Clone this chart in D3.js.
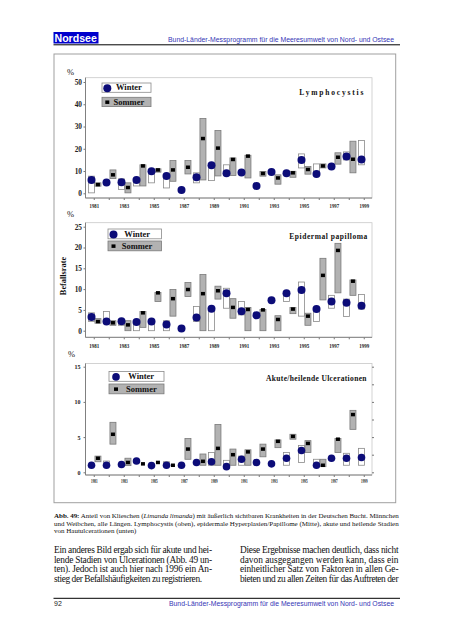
<!DOCTYPE html>
<html><head><meta charset="utf-8">
<script src="https://cdn.jsdelivr.net/npm/d3@7"></script>
<style>body{margin:0;background:#fff}</style>
</head><body>
<svg id="page" width="452" height="640"></svg>
<script>
// ---------- DATA ----------
const years = d3.range(1981, 2000);
const yearLabels = [1981,1983,1985,1987,1989,1991,1993,1995,1997,1999];

// Lymphocystis (%)
const lymWinter   = [6.0,4.8,5.0,6.0,9.9,7.8,1.5,7.2,12.6,9.0,9.3,3.3,9.6,9.0,15.0,8.7,12.0,16.5,15.2];
const lymWinterLo = [0.2,null,1.7,3.3,4.7,2.4,null,4.7,5.7,8.0,null,null,null,null,11.4,8.7,null,15.0,12.8];
const lymWinterHi = [7.7,null,6.5,5.3,9.6,7.8,null,9.2,12.6,12.8,null,null,null,null,17.7,13.2,null,18.6,23.7];
const lymSommer   = [3.9,8.3,2.6,12.3,10.5,10.5,11.7,24.6,20.3,15.2,16.7,8.9,6.9,9.2,10.7,12.3,16.2,15.3,null];
const lymSommerLo = [3.2,6.6,0.2,3.3,9.5,5.4,8.7,6.0,7.8,8.0,6.9,7.7,4.1,7.2,8.6,11.4,13.1,9.2,null];
const lymSommerHi = [4.7,10.5,4.7,12.8,11.0,14.7,14.7,33.6,28.2,15.9,17.1,9.8,8.3,9.9,12.0,13.2,18.2,23.4,null];

// Epidermal papilloma (%)
const epiWinter   = [3.3,2.2,2.3,2.1,2.2,1.5,0.5,3.2,5.3,9.0,4.7,3.7,7.3,9.0,9.8,5.2,7.0,6.7,6.0];
const epiWinterLo = [2.2,1.8,1.3,0.0,0.0,0.0,null,2.2,0.0,5.4,3.8,null,null,7.0,3.5,2.2,5.4,3.4,5.2];
const epiWinterHi = [4.3,4.6,2.7,2.4,2.6,2.4,null,5.8,5.3,10.2,7.0,null,null,9.1,11.7,5.6,8.5,7.6,8.7];
const epiSommer   = [2.2,1.9,1.4,4.3,9.1,7.7,9.9,8.9,9.6,5.6,5.1,5.0,2.7,5.2,3.5,13.3,19.3,11.9,null];
const epiSommerLo = [1.8,1.3,0.0,0.8,7.0,3.5,8.2,0.0,7.6,3.0,0.0,0.0,0.0,4.1,1.3,7.4,9.1,8.5,null];
const epiSommerHi = [2.9,2.4,2.4,4.6,9.2,9.9,11.6,13.5,10.7,7.7,5.6,5.1,3.6,5.6,4.2,17.4,21.0,12.2,null];

// Akute/heilende Ulcerationen (%)
const ulcWinter   = [1.0,1.0,1.1,1.6,0.95,1.0,1.0,1.4,1.5,0.8,1.85,1.4,1.2,2.0,3.1,1.0,2.0,2.0,2.1];
const ulcWinterLo = [null,1.0,null,null,null,0.95,null,null,1.0,1.0,1.0,null,null,1.0,1.4,1.0,null,1.0,1.0];
const ulcWinterHi = [null,1.6,null,null,null,1.5,null,null,2.8,1.7,2.3,null,null,2.8,3.8,1.85,null,2.7,3.4];
const ulcSommer   = [2.0,5.4,1.4,1.2,1.4,1.0,3.3,1.56,3.4,2.5,2.9,3.3,4.4,5.1,4.1,1.0,4.7,8.2,null];
const ulcSommerLo = [1.5,4.0,0.95,null,null,null,1.85,1.0,1.0,1.0,1.0,2.2,3.5,4.7,2.8,0.8,2.8,6.1,null];
const ulcSommerHi = [2.3,7.1,2.0,null,null,null,4.8,2.6,6.8,3.3,3.2,4.0,4.6,5.4,4.5,1.85,4.8,8.8,null];

const lymTicks = [0,10,20,30,40,50];
const epiTicks = [0,5,10,15,20,25];
const ulcTicks = [0,5,10,15];
const ulcRightTicks = [0,2.5,5,7.5,10,12.5,15];

// ---------- DRAW ----------
const svg = d3.select('#page');
const serif = "'Liberation Serif','Times New Roman',serif";
const sans = "'Liberation Sans',Arial,sans-serif";
const navy = '#0c0c78';
const blueText = '#3535b5';

// header
svg.append('rect').attr('x',53.5).attr('y',32).attr('width',45).attr('height',11.5).attr('fill','#0000cc');
svg.append('text').attr('x',54.5).attr('y',42).attr('font-family',sans).attr('font-weight','bold')
  .attr('font-size',10.6).attr('fill','#fff').text('Nordsee');
svg.append('text').attr('x',168).attr('y',42).attr('font-family',sans).attr('font-size',7)
  .attr('fill',blueText).attr('textLength',226).attr('lengthAdjust','spacingAndGlyphs')
  .text('Bund-Länder-Messprogramm für die Meeresumwelt von Nord- und Ostsee');
svg.append('line').attr('x1',53.5).attr('x2',400).attr('y1',44.8).attr('y2',44.8).attr('stroke','#000').attr('stroke-width',1);

// frame
svg.append('rect').attr('x',54).attr('y',54).attr('width',341.7).attr('height',448.7)
  .attr('fill','none').attr('stroke','#a0a0a0').attr('stroke-width',1);

const L = 85.5, R = 372;

function panel(c) {
  const g = svg.append('g');
  const x = d3.scaleLinear().domain([1980.45, 1999.55]).range([L, R]);
  const y = d3.scaleLinear().domain(c.dom).range(c.rng);

  g.append('rect').attr('x',L).attr('y',c.top).attr('width',R-L).attr('height',c.bottom-c.top)
    .attr('fill','none').attr('stroke','#c8c8c8').attr('stroke-width',0.8);

  // y axis
  const ya = g.append('g').attr('transform',`translate(${L},0)`)
    .call(d3.axisLeft(y).tickValues(c.ticks).tickSize(2).tickSizeOuter(0).tickPadding(c.yPad));
  ya.select('.domain').remove();
  ya.selectAll('line').attr('stroke','#777');
  ya.selectAll('text').attr('font-family',serif).attr('font-weight','bold')
    .attr('font-size',c.yFont).attr('fill','#222');

  // x axis
  const xa = g.append('g').attr('transform',`translate(0,${c.bottom})`)
    .call(d3.axisBottom(x).tickValues(years).tickSize(2).tickSizeOuter(0).tickPadding(c.xPad)
      .tickFormat(d => yearLabels.includes(d) ? String(d) : ''));
  xa.select('.domain').remove();
  xa.selectAll('line').attr('stroke','#777');
  xa.selectAll('text').attr('font-family',serif).attr('font-weight','bold')
    .attr('font-size',c.xFont).attr('fill','#222')
    .filter(d => yearLabels.includes(d))
    .attr('textLength',c.xLen).attr('lengthAdjust','spacingAndGlyphs');

  // axis lines
  g.append('line').attr('x1',L).attr('x2',L).attr('y1',c.top).attr('y2',c.bottom).attr('stroke','#808080');
  g.append('line').attr('x1',L).attr('x2',R).attr('y1',c.bottom).attr('y2',c.bottom).attr('stroke','#808080');

  if (c.rightTicks) {
    const ra = g.append('g').attr('transform',`translate(${R},0)`)
      .call(d3.axisRight(y).tickValues(c.rightTicks).tickSize(2).tickSizeOuter(0).tickFormat(''));
    ra.select('.domain').remove();
    ra.selectAll('line').attr('stroke','#777');
  }

  const rows = years.map((yr,i) => ({yr, w:c.w[i], wLo:c.wLo[i], wHi:c.wHi[i], s:c.s[i], sLo:c.sLo[i], sHi:c.sHi[i]}));
  const wx = d => x(d.yr - 0.15), sx = d => x(d.yr + 0.28);
  const bw = 6;

  g.selectAll('rect.wb').data(rows.filter(d => d.wLo != null)).join('rect').attr('class','wb')
    .attr('x', d => wx(d) - bw/2).attr('y', d => y(d.wHi)).attr('width', bw)
    .attr('height', d => Math.max(1, y(d.wLo) - y(d.wHi)))
    .attr('fill','#fff').attr('stroke','#8a8a8a').attr('stroke-width',0.8);
  g.selectAll('rect.sb').data(rows.filter(d => d.sLo != null)).join('rect').attr('class','sb')
    .attr('x', d => sx(d) - bw/2).attr('y', d => y(d.sHi)).attr('width', bw)
    .attr('height', d => Math.max(1, y(d.sLo) - y(d.sHi)))
    .attr('fill','#b2b2b2').attr('stroke','#7a7a7a').attr('stroke-width',0.8);
  g.selectAll('circle.w').data(rows.filter(d => d.w != null)).join('circle').attr('class','w')
    .attr('cx', wx).attr('cy', d => y(d.w)).attr('r', c.r).attr('fill', navy);
  g.selectAll('rect.s').data(rows.filter(d => d.s != null)).join('rect').attr('class','s')
    .attr('x', d => sx(d) - 2).attr('y', d => y(d.s) - 1.75).attr('width',4).attr('height',3.5).attr('fill','#000');

  // legend
  const lg = c.leg;
  g.append('rect').attr('x',lg.x).attr('y',lg.y1).attr('width',lg.w).attr('height',lg.h)
    .attr('fill','#fff').attr('stroke','#8a8a8a').attr('stroke-width',0.8);
  g.append('rect').attr('x',lg.x).attr('y',lg.y2).attr('width',lg.w).attr('height',lg.h)
    .attr('fill','#b2b2b2').attr('stroke','#7a7a7a').attr('stroke-width',0.8);
  g.append('circle').attr('cx',lg.cx).attr('cy',lg.y1 + lg.h/2 + 0.5).attr('r',c.r).attr('fill',navy);
  g.append('rect').attr('x',lg.cx - 2).attr('y',lg.y2 + lg.h/2 - 1.5).attr('width',4).attr('height',3.5).attr('fill','#000');
  g.append('text').attr('x',lg.tx1).attr('y',lg.y1 + lg.h - 2).attr('font-family',serif).attr('font-weight','bold')
    .attr('font-size',8.5).attr('fill','#111').text('Winter');
  g.append('text').attr('x',lg.tx2).attr('y',lg.y2 + lg.h - 2).attr('font-family',serif).attr('font-weight','bold')
    .attr('font-size',8.5).attr('fill','#111').text('Sommer');

  // title
  g.append('text').attr('x',c.tx).attr('y',c.ty).attr('font-family',serif).attr('font-weight','bold')
    .attr('font-size',7.5).attr('fill','#111').attr('textLength',c.tLen).attr('lengthAdjust','spacing').text(c.title);

  // percent sign
  g.append('text').attr('x',c.px).attr('y',c.py).attr('font-family',serif).attr('font-size',8.5)
    .attr('fill','#222').text('%');
}

panel({w:lymWinter,wLo:lymWinterLo,wHi:lymWinterHi,s:lymSommer,sLo:lymSommerLo,sHi:lymSommerHi,
  dom:[0,50], rng:[193.3,82], top:77.7, bottom:198, ticks:lymTicks, yPad:1.5, yFont:7.3,
  xPad:3.5, xFont:6.5, xLen:9.5, r:4,
  leg:{x:102,y1:83,y2:97.3,w:49,h:9.3,cx:107.3,tx1:116,tx2:113.5},
  title:'Lymphocystis', tx:299.3, ty:95, tLen:64, px:67, py:75});

panel({w:epiWinter,wLo:epiWinterLo,wHi:epiWinterHi,s:epiSommer,sLo:epiSommerLo,sHi:epiSommerHi,
  dom:[0,25], rng:[330.7,226.7], top:222.7, bottom:337.3, ticks:epiTicks, yPad:1.5, yFont:7.3,
  xPad:4, xFont:6.5, xLen:10, r:4,
  leg:{x:108,y1:229,y2:241,w:53.5,h:9.8,cx:113.5,tx1:124.3,tx2:121.7},
  title:'Epidermal papilloma', tx:289.3, ty:238.5, tLen:78, px:67, py:217});

panel({w:ulcWinter,wLo:ulcWinterLo,wHi:ulcWinterHi,s:ulcSommer,sLo:ulcSommerLo,sHi:ulcSommerHi,
  dom:[0,15], rng:[472.3,366.7], top:363.5, bottom:475, ticks:ulcTicks, yPad:3, yFont:6,
  xPad:2, xFont:6, xLen:6.5, r:3.8, rightTicks:ulcRightTicks,
  leg:{x:109,y1:371.5,y2:384,w:55,h:9.8,cx:116,tx1:128.3,tx2:126},
  title:'Akute/heilende Ulcerationen', tx:266, ty:380.5, tLen:100.5, px:68, py:357});

// Befallsrate label
svg.append('text').attr('transform','translate(65.5,276) rotate(-90)').attr('text-anchor','middle')
  .attr('font-family',serif).attr('font-weight','bold').attr('font-size',8.3).attr('fill','#111').text('Befallsrate');

// caption
const cap1 = svg.append('text').attr('x',54).attr('y',517.7).attr('font-family',serif).attr('font-size',7)
  .attr('fill','#111').attr('textLength',344.7).attr('lengthAdjust','spacing');
cap1.append('tspan').attr('font-weight','bold').text('Abb. 49:');
cap1.append('tspan').text(' Anteil  von Klieschen (');
cap1.append('tspan').attr('font-style','italic').text('Limanda limanda');
cap1.append('tspan').text(') mit äußerlich sichtbaren Krankheiten in der Deutschen Bucht. Männchen');
svg.append('text').attr('x',54).attr('y',525.5).attr('font-family',serif).attr('font-size',7)
  .attr('fill','#111').attr('textLength',344.7).attr('lengthAdjust','spacing')
  .text('und Weibchen, alle Längen. Lymphocystis (oben), epidermale Hyperplasien/Papillome (Mitte), akute und heilende Stadien');
svg.append('text').attr('x',54).attr('y',533.3).attr('font-family',serif).attr('font-size',7)
  .attr('fill','#111').text('von Hautulcerationen (unten)');

// body text
const leftLines = ['Ein anderes Bild ergab sich für akute und hei-','lende Stadien von Ulcerationen (Abb. 49 un-',
  'ten). Jedoch ist auch hier nach 1996 ein An-','stieg der Befallshäufigkeiten zu registrieren.'];
const rightLines = ['Diese Ergebnisse machen deutlich, dass nicht','davon ausgegangen werden kann, dass ein',
  'einheitlicher Satz von Faktoren in allen Ge-','bieten und zu allen Zeiten für das Auftreten der'];
const bodyY = [553, 562.6, 572.2, 581.8];
leftLines.forEach((t,i) => {
  const el = svg.append('text').attr('x',54).attr('y',bodyY[i]).attr('font-family',serif).attr('font-size',9.4)
    .attr('fill','#111').text(t);
  el.attr('textLength', i < 3 ? 158 : 148).attr('lengthAdjust','spacing');
});
rightLines.forEach((t,i) => {
  svg.append('text').attr('x',240).attr('y',bodyY[i]).attr('font-family',serif).attr('font-size',9.4)
    .attr('fill','#111').attr('textLength',158.5).attr('lengthAdjust','spacing').text(t);
});

// footer
svg.append('line').attr('x1',53.5).attr('x2',400).attr('y1',598.3).attr('y2',598.3).attr('stroke','#000').attr('stroke-width',1);
svg.append('text').attr('x',54).attr('y',606).attr('font-family',sans).attr('font-size',7).attr('fill','#222').text('92');
svg.append('text').attr('x',169).attr('y',606).attr('font-family',sans).attr('font-size',7)
  .attr('fill',blueText).attr('textLength',225).attr('lengthAdjust','spacingAndGlyphs')
  .text('Bund-Länder-Messprogramm für die Meeresumwelt von Nord- und Ostsee');
</script>
</body></html>
